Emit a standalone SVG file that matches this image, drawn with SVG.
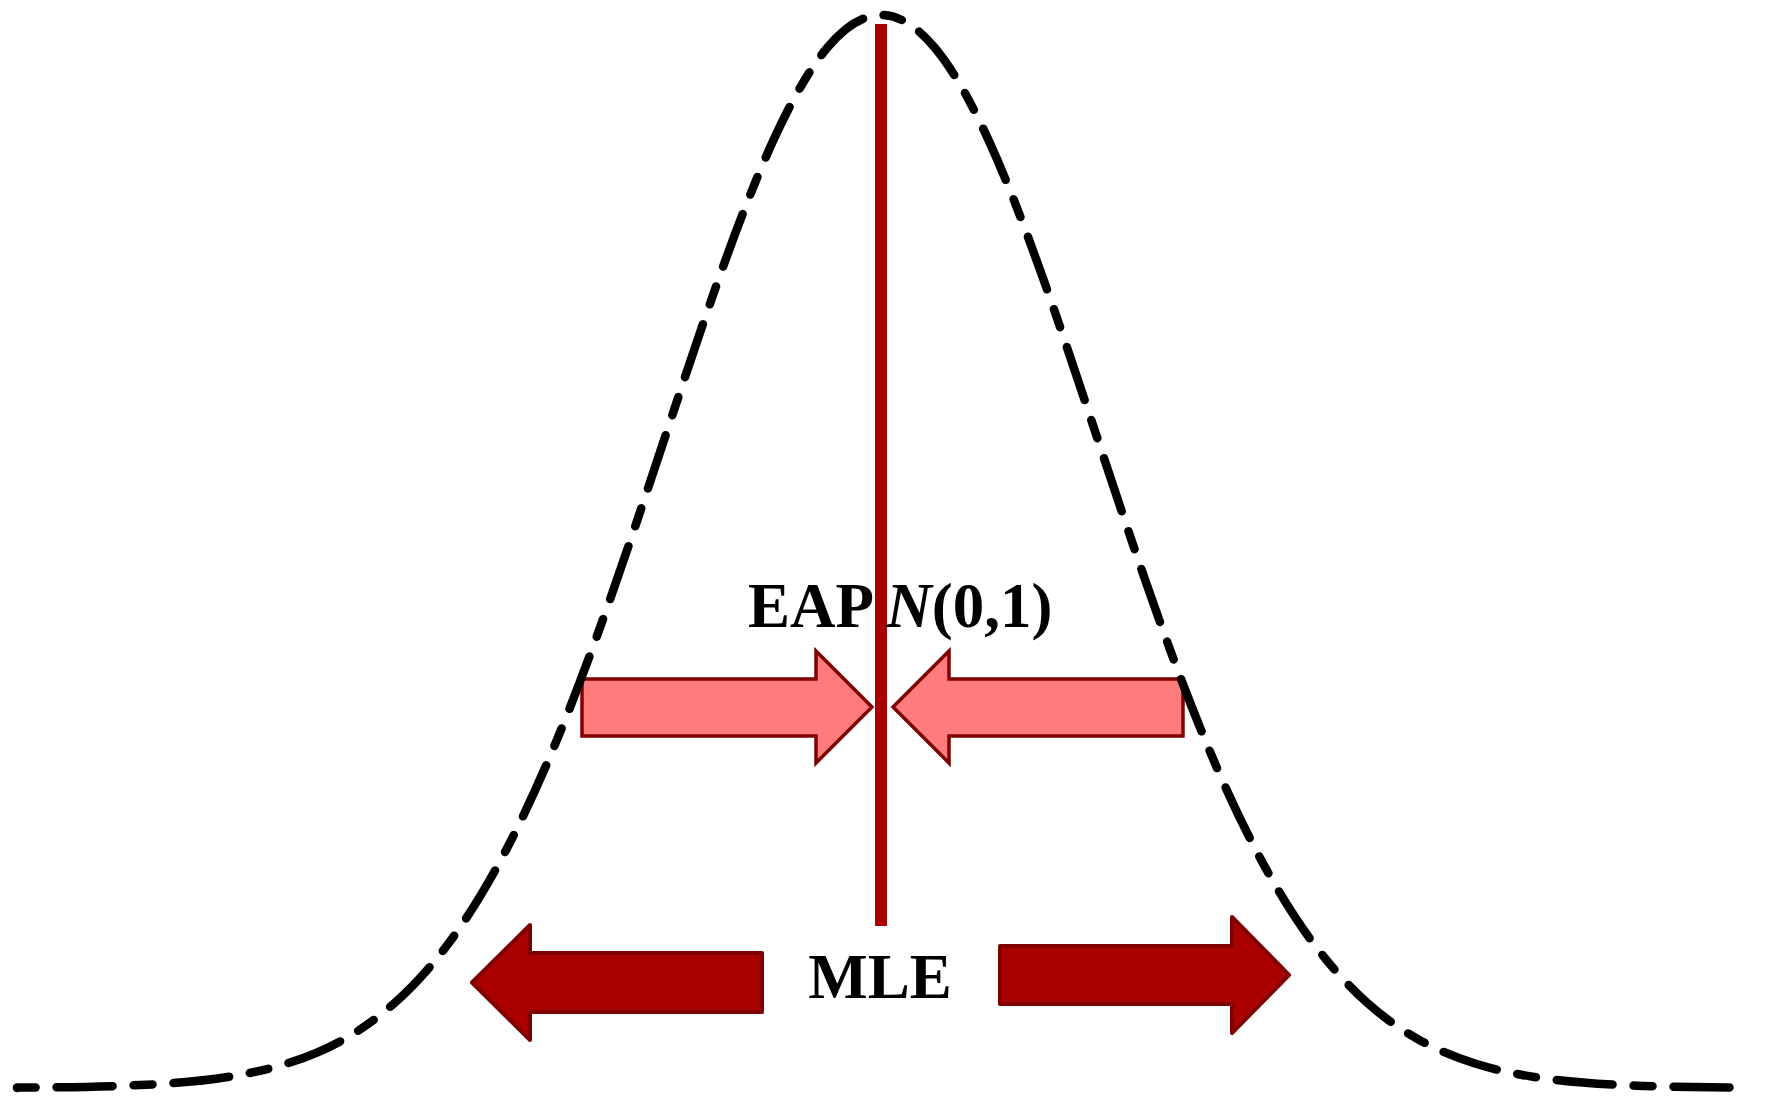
<svg xmlns="http://www.w3.org/2000/svg" width="1772" height="1098" viewBox="0 0 1772 1098">
  <style>
    .curve { fill: none; stroke: #000000; stroke-width: 8.5; stroke-linecap: round; stroke-linejoin: round; stroke-dasharray: 19 21 56 21; }
    .eap { fill: #FF7C7C; stroke: #800000; stroke-width: 3.5; stroke-linejoin: miter; }
    .mle { fill: #AA0000; stroke: #800000; stroke-width: 4; stroke-linejoin: round; }
    .lbl { font-family: "Liberation Serif", "Times New Roman", serif; font-weight: bold; font-size: 63px; fill: #000000; }
  </style>
  <rect x="0" y="0" width="1772" height="1098" fill="#FFFFFF"/>

  <g id="eap-arrow-left">
    <polygon class="eap" points="582,679 816,679 816,651 872,707 816,763 816,736 582,736"/>
  </g>
  <g id="eap-arrow-right">
    <polygon class="eap" points="1183,679 949,679 949,651 893,707 949,763 949,736 1183,736"/>
  </g>

  <g id="density-curve">
    <path class="curve" d="M 17 1088 L 17 1087.6 C 53 1087.4 89 1087.1 125 1085.7 C 161 1084.3 197 1082.1 233 1076.1 C 251 1073.1 269 1069.1 287 1063.5 C 305 1057.9 323 1050.7 341 1040.9 C 359 1031.1 377 1018.6 395 1002.6 C 413 986.6 431 967.0 449 942.8 C 467 918.6 485 889.7 503 855.9 C 521 822.1 539 783.2 557 739.7 C 575 696.2 593 647.9 611 596.7 C 629 545.5 647 491.4 665 437.2 C 683 383.0 701 328.7 719 278.1 C 737 227.5 755 180.6 773 141.1 C 791 101.6 809 69.7 827 48.0 C 845 26.3 863 15 881 15 C 899 15 917 26.3 935 48.0 C 953 69.7 971 101.6 989 141.1 C 1007 180.6 1025 227.5 1043 278.1 C 1061 328.7 1079 383.0 1097 437.2 C 1115 491.4 1133 545.5 1151 596.7 C 1169 647.9 1187 696.2 1205 739.7 C 1223 783.2 1241 822.1 1259 855.9 C 1277 889.7 1295 918.6 1313 942.8 C 1331 967.0 1349 986.6 1367 1002.6 C 1385 1018.6 1403 1031.1 1421 1040.9 C 1439 1050.7 1457 1057.9 1475 1063.5 C 1493 1069.1 1511 1073.1 1529 1076.1 C 1565 1082.1 1601 1084.3 1637 1085.7 C 1673 1087.1 1709 1087.4 1745 1087.6 L 1746 1088"/>
  </g>

  <g id="connectors">
    <line id="eap-line" x1="881" y1="24" x2="881" y2="926" stroke="#AA0000" stroke-width="12"/>
  </g>

  <g id="label-eap">
    <text class="lbl" x="748" y="627">EAP <tspan font-style="italic">N</tspan>(0,1)</text>
  </g>

  <g id="mle-arrow-left">
    <polygon class="mle" points="472,982.5 530,925 530,953 762,953 762,1012 530,1012 530,1040"/>
  </g>
  <g id="mle-arrow-right">
    <polygon class="mle" points="1000,946 1232,946 1232,917 1289,975 1232,1033 1232,1004 1000,1004"/>
  </g>
  <g id="label-mle">
    <text class="lbl" x="880" y="998" text-anchor="middle">MLE</text>
  </g>
</svg>
